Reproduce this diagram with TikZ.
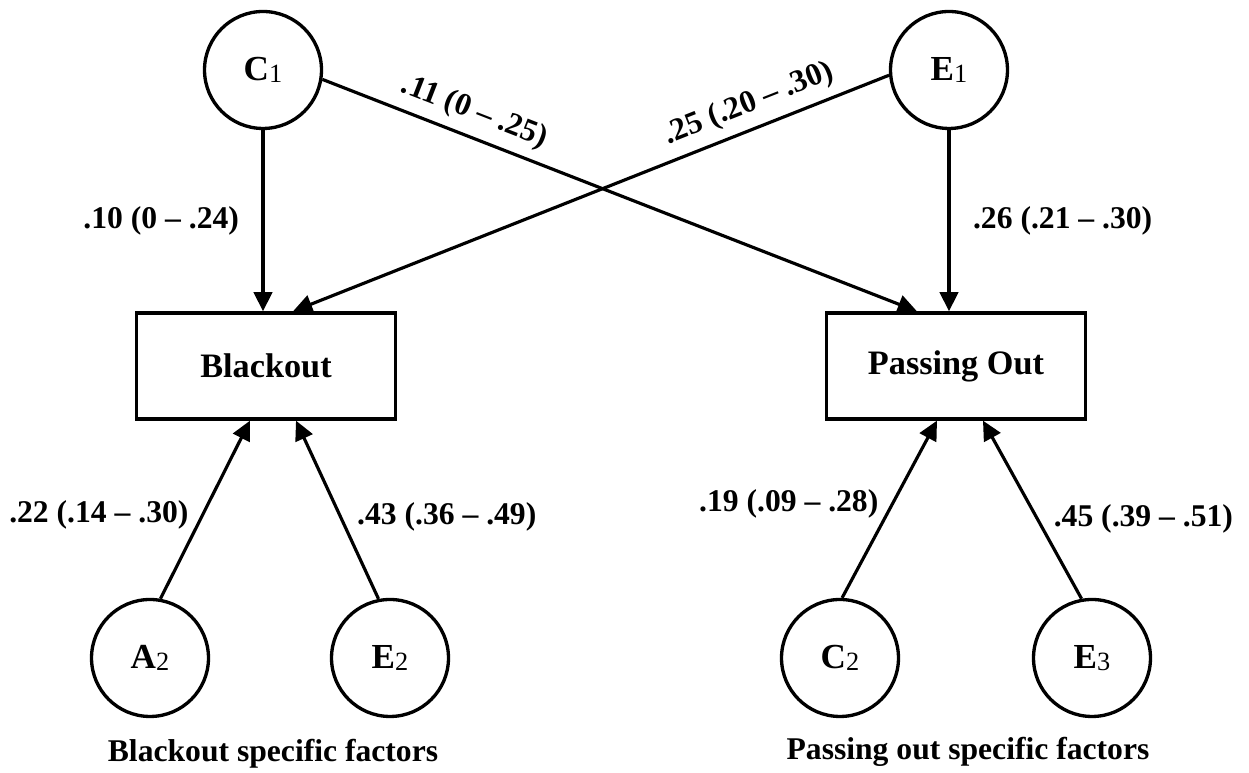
\documentclass[tikz,border=0pt]{standalone}
\usepackage{fontspec}
\setmainfont{Liberation Serif}
\usetikzlibrary{arrows.meta}

\newcommand{\latent}[2]{{\fontsize{20}{20}\selectfont #1}\raisebox{-1.3pt}{\fontsize{15}{15}\selectfont\mdseries #2}}

\begin{document}
\begin{tikzpicture}[x=0.02cm,y=0.02cm,
    font=\bfseries\fontsize{18}{20}\selectfont,
    factor/.style={circle, draw, line width=1.9pt, minimum size=2.34cm, inner sep=0pt},
    outcome/.style={rectangle, draw, line width=1.9pt, minimum width=5.18cm, minimum height=2.12cm,
        font=\bfseries\fontsize{19.5}{22}\selectfont},
    loading/.style={-{Triangle[length=11pt,width=10.5pt]}, line width=1.8pt},
    coef/.style={inner sep=0pt}]
    \useasboundingbox (0,0) rectangle (1249,773);

    % common factors
    \node[factor] (C1) at (263,703) {\latent{C}{1}};
    \node[factor] (E1) at (949,703) {\latent{E}{1}};

    % outcomes
    \node[outcome] (bo) at (266,407) {Blackout};
    \node[outcome] (po) at (956,407) {Passing Out};

    % specific factors
    \node[factor] (A2) at (150,115) {\latent{A}{2}};
    \node[factor] (E2) at (390,115) {\latent{E}{2}};
    \node[factor] (C2) at (840,115) {\latent{C}{2}};
    \node[factor] (E3) at (1092,115) {\latent{E}{3}};

    \node[anchor=base] (bsf) at (273,11) {Blackout specific factors};
    \node[anchor=base] (psf) at (968,13) {Passing out specific factors};

    % paths
    \draw[loading] (C1.south) -- (C1.south |- bo.north)
        node[coef, midway, left=0.45cm] {.10 (0 – .24)};
    \draw[loading] (E1.south) -- (E1.south |- po.north)
        node[coef, midway, right=0.45cm] {.26 (.21 – .30)};
    \draw[loading] (C1.-9) -- ([xshift=-0.78cm]po.north)
        node[coef, pos=0.24, sloped, above=5pt] {.11 (0 – .25)};
    \draw[loading] (E1.185) -- ([xshift=0.54cm]bo.north)
        node[coef, pos=0.22, sloped, above=5pt] {.25 (.20 – .30)};

    \draw[loading] (A2.80) -- ([xshift=-0.32cm]bo.south)
        node[coef, pos=0.47, left=0.25cm] {.22 (.14 – .30)};
    \draw[loading] (E2.101) -- ([xshift=0.6cm]bo.south)
        node[coef, pos=0.46, right=0.3cm] {.43 (.36 – .49)};
    \draw[loading] (C2.88) -- ([xshift=-0.38cm]po.south)
        node[coef, pos=0.53, left=0.25cm] {.19 (.09 – .28)};
    \draw[loading] (E3.100) -- ([xshift=0.54cm]po.south)
        node[coef, pos=0.45, right=0.3cm] {.45 (.39 – .51)};
\end{tikzpicture}
\end{document}
